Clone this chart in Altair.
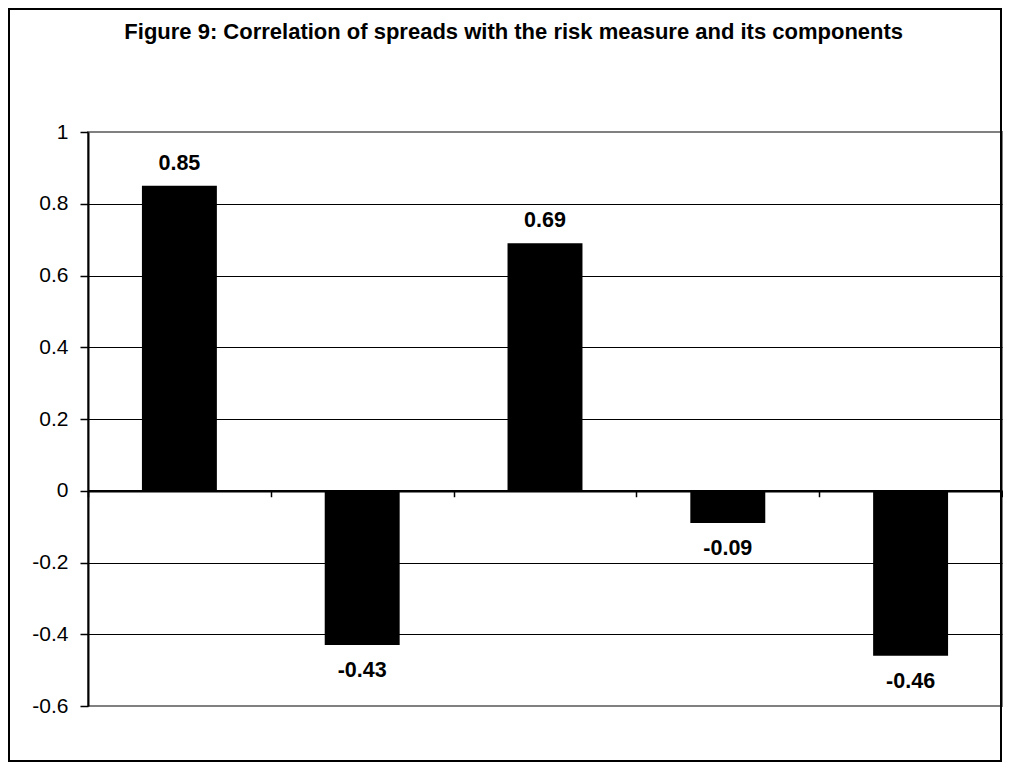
import altair as alt
import pandas as pd

categories = ["Risk measure", "Component A", "Component B", "Component C", "Component D"]
values = [0.85, -0.43, 0.69, -0.09, -0.46]
y_ticks = [1, 0.8, 0.6, 0.4, 0.2, 0, -0.2, -0.4, -0.6]
title_text = "Figure 9: Correlation of spreads with the risk measure and its components"

df = pd.DataFrame({"category": categories, "value": values})

W, H = 914, 574
PAD_L, PAD_T, PAD_R, PAD_B = 80, 124, 1, 58
ymin, ymax = -0.6, 1.0
zero_offset = -H * (0 - ymin) / (ymax - ymin)
FONT = "Liberation Sans"

x_enc = alt.X(
    "category:N", sort=categories, title=None,
    scale=alt.Scale(paddingInner=0, paddingOuter=0),
    axis=alt.Axis(orient="bottom", offset=zero_offset, labels=False, domain=True,
                  domainColor="black", domainWidth=2.5, ticks=True, tickBand="extent",
                  tickSize=6, tickColor="black", tickWidth=1.5, grid=False),
)
y_enc = alt.Y(
    "value:Q", title=None,
    scale=alt.Scale(domain=[ymin, ymax], nice=False),
    axis=alt.Axis(values=y_ticks, labelExpr="toString(datum.value)", labelFont=FONT,
                  labelFontSize=21, labelColor="black", labelPadding=12, tickSize=8,
                  tickColor="black", tickWidth=1.5, domainColor="black", domainWidth=2,
                  grid=True,
                  gridColor={"condition": {"test": "datum.value == 1 || datum.value == -0.6",
                                           "value": "#808080"}, "value": "black"},
                  gridWidth=1.2),
)

base = alt.Chart(df).transform_calculate(label="toString(datum.value)")

bars = base.mark_bar(color="black", width=alt.RelativeBandSize(0.41)).encode(x=x_enc, y=y_enc)

pos_labels = base.transform_filter("datum.value >= 0").mark_text(
    dy=-16, baseline="alphabetic", font=FONT, fontSize=21.5, fontWeight="bold", color="black"
).encode(x=x_enc, y=y_enc, text="label:N")

neg_labels = base.transform_filter("datum.value < 0").mark_text(
    dy=32, baseline="alphabetic", font=FONT, fontSize=21.5, fontWeight="bold", color="black"
).encode(x=x_enc, y=y_enc, text="label:N")

one = pd.DataFrame({"t": [title_text]})
frame = alt.Chart(one).mark_rect(
    fill="transparent", stroke="black", strokeWidth=2, clip=False
).encode(
    x=alt.value(1 - PAD_L), x2=alt.value(W + PAD_R - 2),
    y=alt.value(1 - PAD_T), y2=alt.value(H + PAD_B - 3),
)
title = alt.Chart(one).mark_text(
    font=FONT, fontSize=22, fontWeight="bold", color="black", align="center",
    baseline="alphabetic", clip=False
).encode(text="t:N", x=alt.value(505.7 - PAD_L), y=alt.value(31 - PAD_T))

chart = alt.layer(frame, bars, pos_labels, neg_labels, title).properties(
    width=W, height=H,
    padding={"left": PAD_L, "top": PAD_T, "right": PAD_R, "bottom": PAD_B},
    autosize=alt.AutoSizeParams(type="none"),
    background="white",
).configure_view(stroke="#808080", strokeWidth=2)

chart.save("out.html", embed_options={"renderer": "svg", "actions": False})
